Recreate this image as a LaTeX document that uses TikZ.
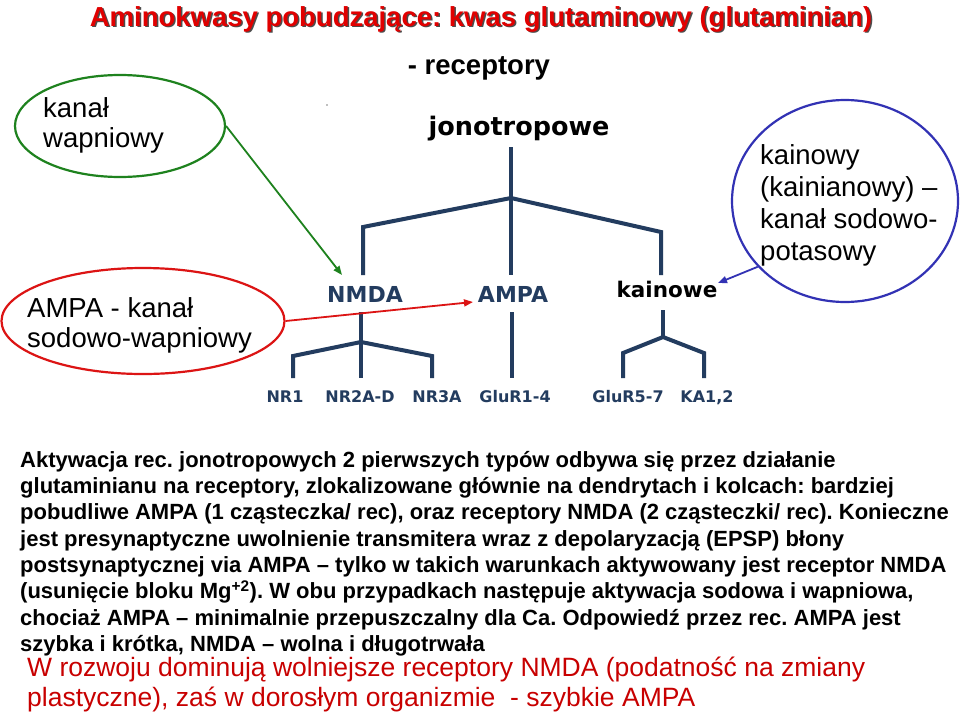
\documentclass[tikz,border=0pt]{standalone}
\usepackage{fontspec}
\setmainfont{Liberation Sans}
\newfontfamily\treefont{DejaVu Sans}
\usetikzlibrary{arrows.meta,shapes.geometric}
\definecolor{navy}{RGB}{35,60,95}
\definecolor{titlered}{RGB}{225,0,0}
\definecolor{darkred}{RGB}{200,0,0}
\definecolor{egreen}{RGB}{30,130,30}
\definecolor{ered}{RGB}{220,20,20}
\definecolor{eblue}{RGB}{50,50,180}
\frenchspacing
\begin{document}
\begin{tikzpicture}[x=1pt,y=-1pt,
  treeline/.style={navy,line width=4pt,line join=miter},
  treelab/.style={navy,font=\treefont\bfseries\fontsize{16}{16}\selectfont,inner sep=0pt},
  mainlab/.style={font=\treefont\bfseries\fontsize{22}{22}\selectfont,inner sep=0pt},
  oval/.style={ellipse,line width=2.2pt,inner sep=0pt},
  ovaltext/.style={font=\fontsize{27.5}{30}\selectfont,inner sep=0pt,anchor=base west},
  arrowline/.style={line width=1.8pt,-{Triangle[length=9pt,width=7pt]}}]
\useasboundingbox[fill=white] (0,0) rectangle (960,715);
% title
\node[anchor=base,inner sep=0pt,font=\bfseries\fontsize{27.5}{30}\selectfont,text=black!70] (titleshadow) at (482.5,27.5) {Aminokwasy pobudzające: kwas glutaminowy (glutaminian)};
\node[anchor=base,inner sep=0pt,font=\bfseries\fontsize{27.5}{30}\selectfont,text=titlered] (title) at (481,26) {Aminokwasy pobudzające: kwas glutaminowy (glutaminian)};
\node[anchor=base,inner sep=0pt,font=\bfseries\fontsize{27.5}{30}\selectfont] (rec) at (479,74) {- receptory};
% tree labels
\node[mainlab,font=\treefont\bfseries\fontsize{25.5}{26}\selectfont,anchor=base] (jono) at (519,135) {jonotropowe};
\node[treelab,font=\treefont\bfseries\fontsize{22}{22}\selectfont,anchor=base] (nmda) at (365,302) {NMDA};
\node[treelab,font=\treefont\bfseries\fontsize{22}{22}\selectfont,anchor=base] (ampa) at (513,302) {AMPA};
\node[mainlab,font=\treefont\bfseries\fontsize{21.5}{22}\selectfont,anchor=base] (kain) at (667,297) {kainowe};
\node[treelab,anchor=base] (nr1) at (285,402) {NR1};
\node[treelab,anchor=base] (nr2) at (360,402) {NR2A-D};
\node[treelab,anchor=base] (nr3) at (437,402) {NR3A};
\node[treelab,anchor=base] (glu14) at (515,402) {GluR1-4};
\node[treelab,anchor=base] (glu57) at (628,402) {GluR5-7};
\node[treelab,anchor=base] (ka) at (707,402) {KA1,2};
% tree coordinates
\coordinate (j0) at (511,198);
\coordinate (jtop) at (511,147);
\coordinate (lc) at (363,227);
\coordinate (rc) at (661,232);
\coordinate (nmdatop) at (363,275);
\coordinate (ampatop) at (511,275);
\coordinate (kaintop) at (661,275);
\coordinate (n0) at (361,312);
\coordinate (j1) at (361,342);
\coordinate (n1c) at (293,356);
\coordinate (n3c) at (432,356);
\coordinate (n1b) at (293,378);
\coordinate (n2b) at (361,378);
\coordinate (n3b) at (432,378);
\coordinate (a0) at (512,312);
\coordinate (ab) at (512,378);
\coordinate (k0) at (663,310);
\coordinate (j3) at (663,337);
\coordinate (k1c) at (623,353);
\coordinate (k2c) at (704,353);
\coordinate (k1b) at (623,378);
\coordinate (k2b) at (704,378);
\draw[treeline] (jtop) -- (ampatop);
\draw[treeline] (nmdatop) -- (lc) -- (j0) -- (rc) -- (kaintop);
\draw[treeline] (n0) -- (n2b);
\draw[treeline] (n1b) -- (n1c) -- (j1) -- (n3c) -- (n3b);
\draw[treeline] (a0) -- (ab);
\draw[treeline] (k0) -- (j3);
\draw[treeline] (k1b) -- (k1c) -- (j3) -- (k2c) -- (k2b);
% small dot
\fill[black!50] (327,105) circle (0.8);
% ellipses
\node[oval,draw=egreen,minimum width=210pt,minimum height=102pt] (gell) at (120,126) {};
\node[ovaltext] (gt1) at (43,117) {kanał};
\node[ovaltext] (gt2) at (43,147) {wapniowy};
\node[oval,draw=ered,minimum width=283pt,minimum height=106pt] (rell) at (143,321) {};
\node[ovaltext] (rt1) at (27,317) {AMPA - kanał};
\node[ovaltext] (rt2) at (27,347) {sodowo-wapniowy};
\node[oval,draw=eblue,minimum width=226pt,minimum height=202pt] (bell) at (845,201) {};
\node[ovaltext] (bt1) at (760,164) {kainowy};
\node[ovaltext] (bt2) at (760,196) {(kainianowy) –};
\node[ovaltext] (bt3) at (760,228) {kanał sodowo-};
\node[ovaltext] (bt4) at (760,260) {potasowy};
% arrows
\coordinate (gtip) at (342,275);
\coordinate (rtip) at (473,302);
\coordinate (btip) at (718,283);
\draw[arrowline,egreen] (gell.east) -- (gtip);
\draw[arrowline,ered] (rell.east) -- (rtip);
\draw[arrowline,eblue] (bell.217) -- (btip);
% body text
\node[anchor=north west,inner sep=0pt,align=left,font=\bfseries\fontsize{22}{26.3}\selectfont] (body) at (20,451) {Aktywacja rec. jonotropowych 2 pierwszych typów odbywa się przez działanie\\
glutaminianu na receptory, zlokalizowane głównie na dendrytach i kolcach: bardziej\\
pobudliwe AMPA (1 cząsteczka/ rec), oraz receptory NMDA (2 cząsteczki/ rec). Konieczne\\
jest presynaptyczne uwolnienie transmitera wraz z depolaryzacją (EPSP) błony\\
postsynaptycznej via AMPA – tylko w takich warunkach aktywowany jest receptor NMDA\\
(usunięcie bloku Mg\textsuperscript{+2}). W obu przypadkach następuje aktywacja sodowa i wapniowa,\\
chociaż AMPA – minimalnie przepuszczalny dla Ca. Odpowiedź przez rec. AMPA jest\\
szybka i krótka, NMDA – wolna i długotrwała};
\node[anchor=north west,inner sep=0pt,align=left,text=darkred,font=\fontsize{26.5}{29.5}\selectfont] (concl) at (27,657) {W rozwoju dominują wolniejsze receptory NMDA (podatność na zmiany\\
plastyczne), zaś w dorosłym organizmie\ \ - szybkie AMPA};
\end{tikzpicture}
\end{document}
